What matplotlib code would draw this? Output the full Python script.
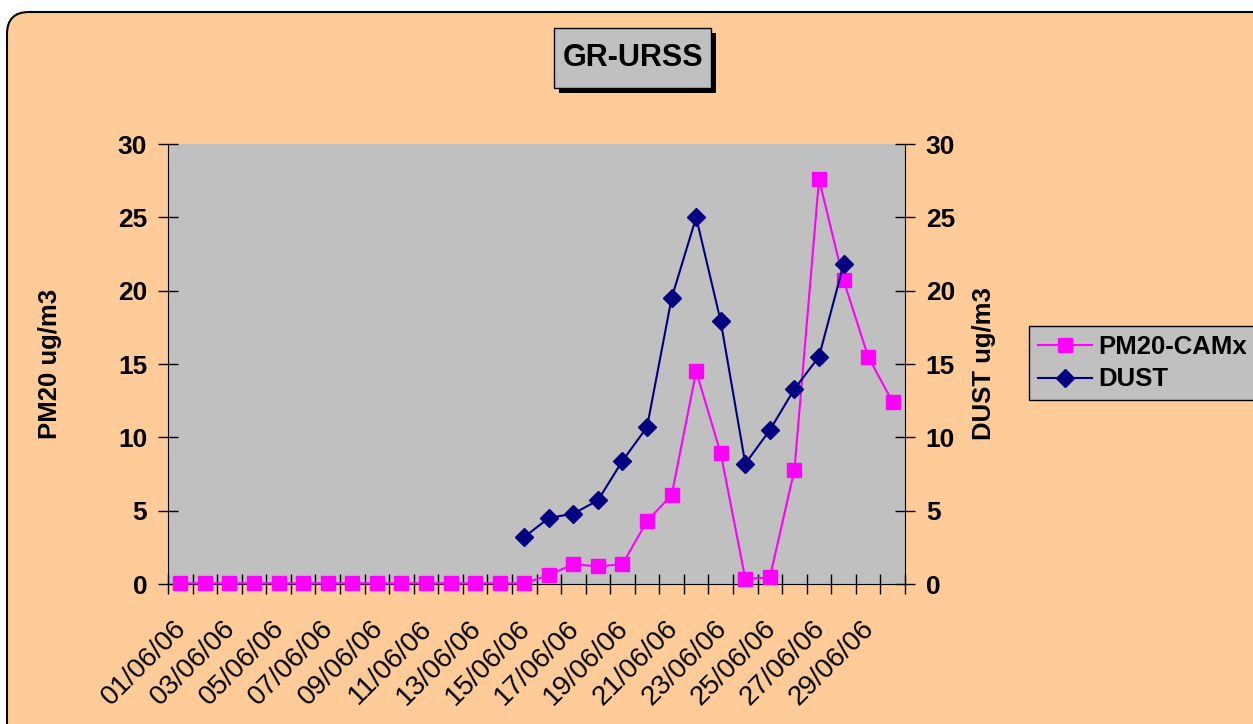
import numpy as np
import matplotlib
matplotlib.use('Agg')
import matplotlib.pyplot as plt
from matplotlib.patches import FancyBboxPatch, Rectangle
from matplotlib.transforms import ScaledTranslation

plt.rcParams['font.family'] = ['Liberation Sans', 'DejaVu Sans']

# data
days = ['%02d/06/06' % d for d in range(1, 31)]
pm20 = [0.05] * 14 + [0.05, 0.6, 1.35, 1.2, 1.35, 4.3, 6.05, 14.5, 8.9, 0.35,
                      0.45, 7.8, 27.6, 20.7, 15.5, 12.4]
dust = [np.nan] * 14 + [3.2, 4.5, 4.8, 5.7, 8.4, 10.7, 19.5, 25.0, 17.9, 8.2,
                        10.5, 13.3, 15.5, 21.8, np.nan, np.nan]
yticks = [0, 5, 10, 15, 20, 25, 30]

W, H = 1253, 724
fig = plt.figure(figsize=(W / 100, H / 100), dpi=100)
fig.patch.set_facecolor('white')

# rounded peach background (pixel coords, origin bottom-left)
bg = FancyBboxPatch((7, -40), W + 40, H - 12 + 40,
                    boxstyle='round,pad=0,rounding_size=22',
                    transform=None, facecolor='#FFCC99',
                    edgecolor='black', linewidth=1.5, zorder=-10)
fig.patches.append(bg)

ax = fig.add_axes([168 / W, 1 - 584 / H, (905 - 168) / W, (584 - 144) / H])
ax.set_facecolor('#C0C0C0')
x = np.arange(len(days))
ax.plot(x, pm20, color='#FF00FF', marker='s', markersize=10, linewidth=1.5,
        label='PM20-CAMx', clip_on=False, zorder=3)
ax.plot(x, dust, color='#000080', marker='D', markersize=9, linewidth=1.5,
        label='DUST', clip_on=False, zorder=3)
ax.set_xlim(-0.5, len(days) - 0.5)
ax.set_ylim(0, 30)

ax2 = ax.twinx()
ax2.set_ylim(0, 30)

for a in (ax, ax2):
    a.spines['top'].set_visible(False)
    a.set_yticks(yticks)
    a.tick_params(axis='y', direction='inout', length=14, width=1,
                  labelsize=19, pad=8)
    for lab in a.get_yticklabels():
        lab.set_fontweight('bold')
ax.spines['right'].set_visible(False)
ax2.spines['left'].set_visible(False)
ax2.spines['bottom'].set_visible(False)

ax.set_xticks(np.arange(len(days) + 1) - 0.5)
ax.set_xticklabels([])
ax.set_xticks(x[::2], minor=True)
ax.set_xticklabels(days[::2], minor=True, rotation=45, ha='right',
                   rotation_mode='anchor', fontsize=20)
ax.tick_params(axis='x', which='major', direction='inout', length=14, width=1)
ax.tick_params(axis='x', which='minor', length=0, pad=14)
shift = ScaledTranslation(-0.07, -0.12, fig.dpi_scale_trans)
for lab in ax.get_xticklabels(minor=True):
    lab.set_transform(lab.get_transform() + shift)

ax.set_ylabel('PM20 ug/m3', fontsize=18.5, fontweight='bold', labelpad=40)
ax2.set_ylabel('DUST ug/m3', fontsize=18.5, fontweight='bold', labelpad=12)

# title box with shadow
fig.patches.append(Rectangle((559, H - 93), 157, 60, transform=None,
                             facecolor='black', zorder=-5))
fig.patches.append(Rectangle((554, H - 88), 157, 60, transform=None,
                             facecolor='#C0C0C0', edgecolor='black',
                             linewidth=1, zorder=-4))
fig.text(633 / W, 1 - 58 / H, 'GR-URSS', fontsize=22, fontweight='bold',
         ha='center', va='center')

h1, l1 = ax.get_legend_handles_labels()
leg = fig.legend(h1, l1, loc='center left', bbox_to_anchor=(1029 / W, 1 - 363 / H),
                 fontsize=18.5, frameon=True, fancybox=False, handlelength=2.1,
                 borderpad=0.35, labelspacing=0.35, handletextpad=0.25,
                 borderaxespad=0)
leg.get_frame().set_facecolor('#C0C0C0')
leg.get_frame().set_edgecolor('black')
leg.get_frame().set_alpha(1)
for t in leg.get_texts():
    t.set_fontweight('bold')

fig.savefig('out.png', dpi=100)
